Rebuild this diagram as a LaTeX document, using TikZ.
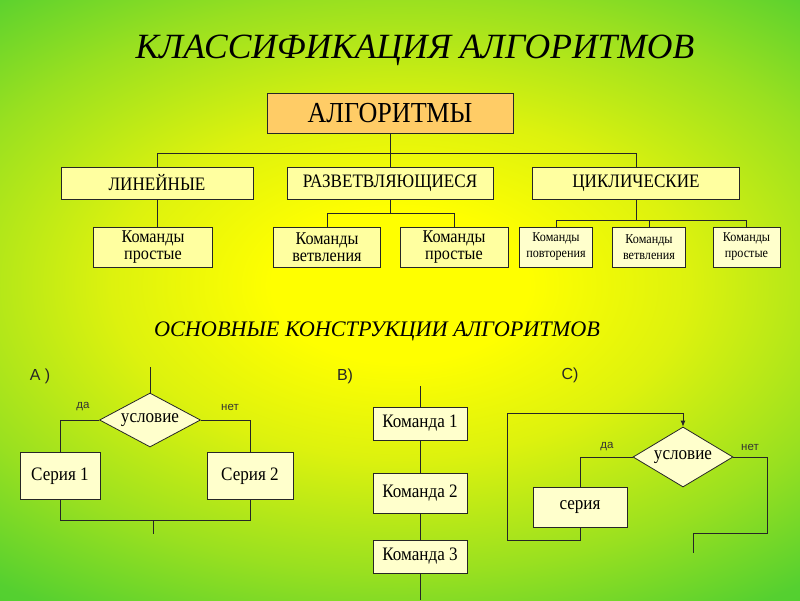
\documentclass[tikz,border=0pt]{standalone}
\usepackage{fontspec}
\setmainfont{Liberation Serif}
\setsansfont{Liberation Sans}
\newfontfamily\uzkiy[FakeStretch=0.9]{Liberation Serif}
\usetikzlibrary{shapes.geometric,arrows.meta}
\definecolor{zhel}{HTML}{FFFF00}
\definecolor{salat}{HTML}{DDF20E}
\definecolor{travа}{HTML}{99E020}
\definecolor{svzel}{HTML}{55D030}
\definecolor{zel}{HTML}{44CC33}
\definecolor{temzel}{HTML}{33CC33}
\definecolor{bledn}{HTML}{FFFFA0}
\definecolor{krem}{HTML}{FFFFCC}
\definecolor{oranzh}{HTML}{FFCC66}
\pgfdeclareradialshading{fon}{\pgfpoint{0bp}{0bp}}{color(0bp)=(zhel); color(4bp)=(zhel); color(9bp)=(salat); color(15bp)=(travа); color(20bp)=(svzel); color(24bp)=(zel); color(50bp)=(temzel)}
\begin{document}
\begin{tikzpicture}[x=1pt,y=-1pt]
    \tikzstyle{spoj}= [draw=black!85, line width=0.8pt]
    \tikzstyle{blokA}= [spoj, fill=bledn, inner sep=1pt, align=center, font=\uzkiy\fontsize{18}{17}\selectfont]
    \tikzstyle{blokB}= [spoj, fill=krem, inner sep=1pt, align=center, font=\uzkiy\fontsize{13.5}{16}\selectfont, minimum width=73, minimum height=40]
    \tikzstyle{blokC}= [spoj, fill=krem, inner sep=1pt, font=\uzkiy\fontsize{19}{20}\selectfont]
    \tikzstyle{romb}= [spoj, diamond, fill=krem, inner sep=0pt, aspect=1.9, font=\uzkiy\fontsize{19}{20}\selectfont]
    \tikzstyle{metka}= [font=\sffamily\fontsize{11.5}{12}\selectfont, text=black!80]
    \tikzstyle{bukva}= [font=\sffamily\fontsize{16}{17}\selectfont, text=black!85]

  % fon
  \begin{scope}
    \clip (0,0) rectangle (800,600);
    \shade[shading=fon] (-400,-195) rectangle (1200,765);
  \end{scope}
  \useasboundingbox (0,0) rectangle (800,600);

  \node[font=\itshape\fontsize{35.5}{36}\selectfont] (zag) at (415,50) {КЛАССИФИКАЦИЯ АЛГОРИТМОВ};

  % derevo
  \node[blokA, fill=oranzh, minimum width=246, minimum height=40, font=\uzkiy\fontsize{29}{30}\selectfont] (alg) at (390,113) {АЛГОРИТМЫ};

  \foreach \nm/\x/\w/\t in {lin/157/192/ЛИНЕЙНЫЕ, raz/390/206/РАЗВЕТВЛЯЮЩИЕСЯ, cik/636/207/ЦИКЛИЧЕСКИЕ}
    \node[blokA, minimum width=\w, minimum height=32, font=\uzkiy\fontsize{19}{20}\selectfont] (\nm) at (\x,183) {\t};

  \foreach \nm/\x/\w/\t in {lp/153/119/простые, rv/327/107/ветвления, rp/454/108/простые}
    \node[blokA, minimum width=\w, minimum height=40] (\nm) at (\x,247) {Команды\\\t};

  \foreach \nm/\x/\w/\t in {cpov/556/73/повторения, cvet/649/73/ветвления, cpro/746.5/67/простые}
    \node[blokB, minimum width=\w] (\nm) at (\x,247) {Команды\\\t};

  \draw[spoj] (alg) -- (raz);
  \draw[spoj] (alg.south) -- ++(0,20) -| (lin.north);
  \draw[spoj] (alg.south) -- ++(0,20) -| (cik.north);
  \draw[spoj] (lin.south) -- (lin.south |- lp.north);
  \draw[spoj] (raz.south) -- ++(0,14) -| (rv.north);
  \draw[spoj] (raz.south) -- ++(0,14) -| (rp.north);
  \foreach \k in {cpov,cvet,cpro}
    \draw[spoj] (cik.south) -- ++(0,21) -| (\k.north);

  \node[font=\itshape\fontsize{22.2}{23}\selectfont] (podzag) at (377,331) {ОСНОВНЫЕ КОНСТРУКЦИИ АЛГОРИТМОВ};

  % A) vetvlenie
  \node[bukva] (bA) at (40,376) {А )};
  \node[romb, minimum width=101, minimum height=54] (uslA) at (150,420) {условие};
  \node[blokC, minimum width=80, minimum height=47] (ser1) at (60,476) {Серия 1};
  \node[blokC, minimum width=86, minimum height=47] (ser2) at (250,476) {Серия 2};
  \node[metka] (daA) at (83,407) {да};
  \node[metka] (netA) at (230,407) {нет};
  \coordinate (vhA) at (150,367);
  \coordinate (sliyA) at (153,520);
  \coordinate (vyhA) at (153,534);
  \draw[spoj] (vhA) -- (uslA.north);
  \draw[spoj] (uslA.west) -| (ser1.north);
  \draw[spoj] (uslA.east) -| (ser2.north);
  \draw[spoj] (ser1.south) -- ++(0,20) -| (ser2.south);
  \draw[spoj] (sliyA) -- (vyhA);

  % B) sledovanie
  \node[bukva] (bB) at (345,376) {В)};
  \node[blokC, minimum width=94, minimum height=33] (kom1) at (420,423.5) {Команда 1};
  \node[blokC, minimum width=94, minimum height=40] (kom2) at (420,493) {Команда 2};
  \node[blokC, minimum width=94, minimum height=33] (kom3) at (420,556.5) {Команда 3};
  \coordinate (vhB) at (420,386);
  \coordinate (vyhB) at (420,600);
  \draw[spoj] (vhB) -- (kom1) -- (kom2) -- (kom3) -- (vyhB);

  % C) cikl
  \node[bukva] (bC) at (570,375) {С)};
  \node[romb, minimum width=100, minimum height=60] (uslC) at (683,457) {условие};
  \node[blokC, minimum width=94, minimum height=40] (seriya) at (580,507) {серия};
  \node[metka] (daC) at (607,447) {да};
  \node[metka] (netC) at (750,447) {нет};
  \coordinate (petlya) at (507,413);
  \coordinate (povC) at (693,533);
  \coordinate (vyhC) at (693,553);
  \draw[spoj, -{Latex[length=6pt,width=5pt]}] (seriya.south) -- ++(0,13) -| (petlya) -| (uslC.north);
  \draw[spoj] (uslC.west) -| (seriya.north);
  \draw[spoj] (uslC.east) -- ++(34,0) |- (povC) -- (vyhC);
\end{tikzpicture}
\end{document}
